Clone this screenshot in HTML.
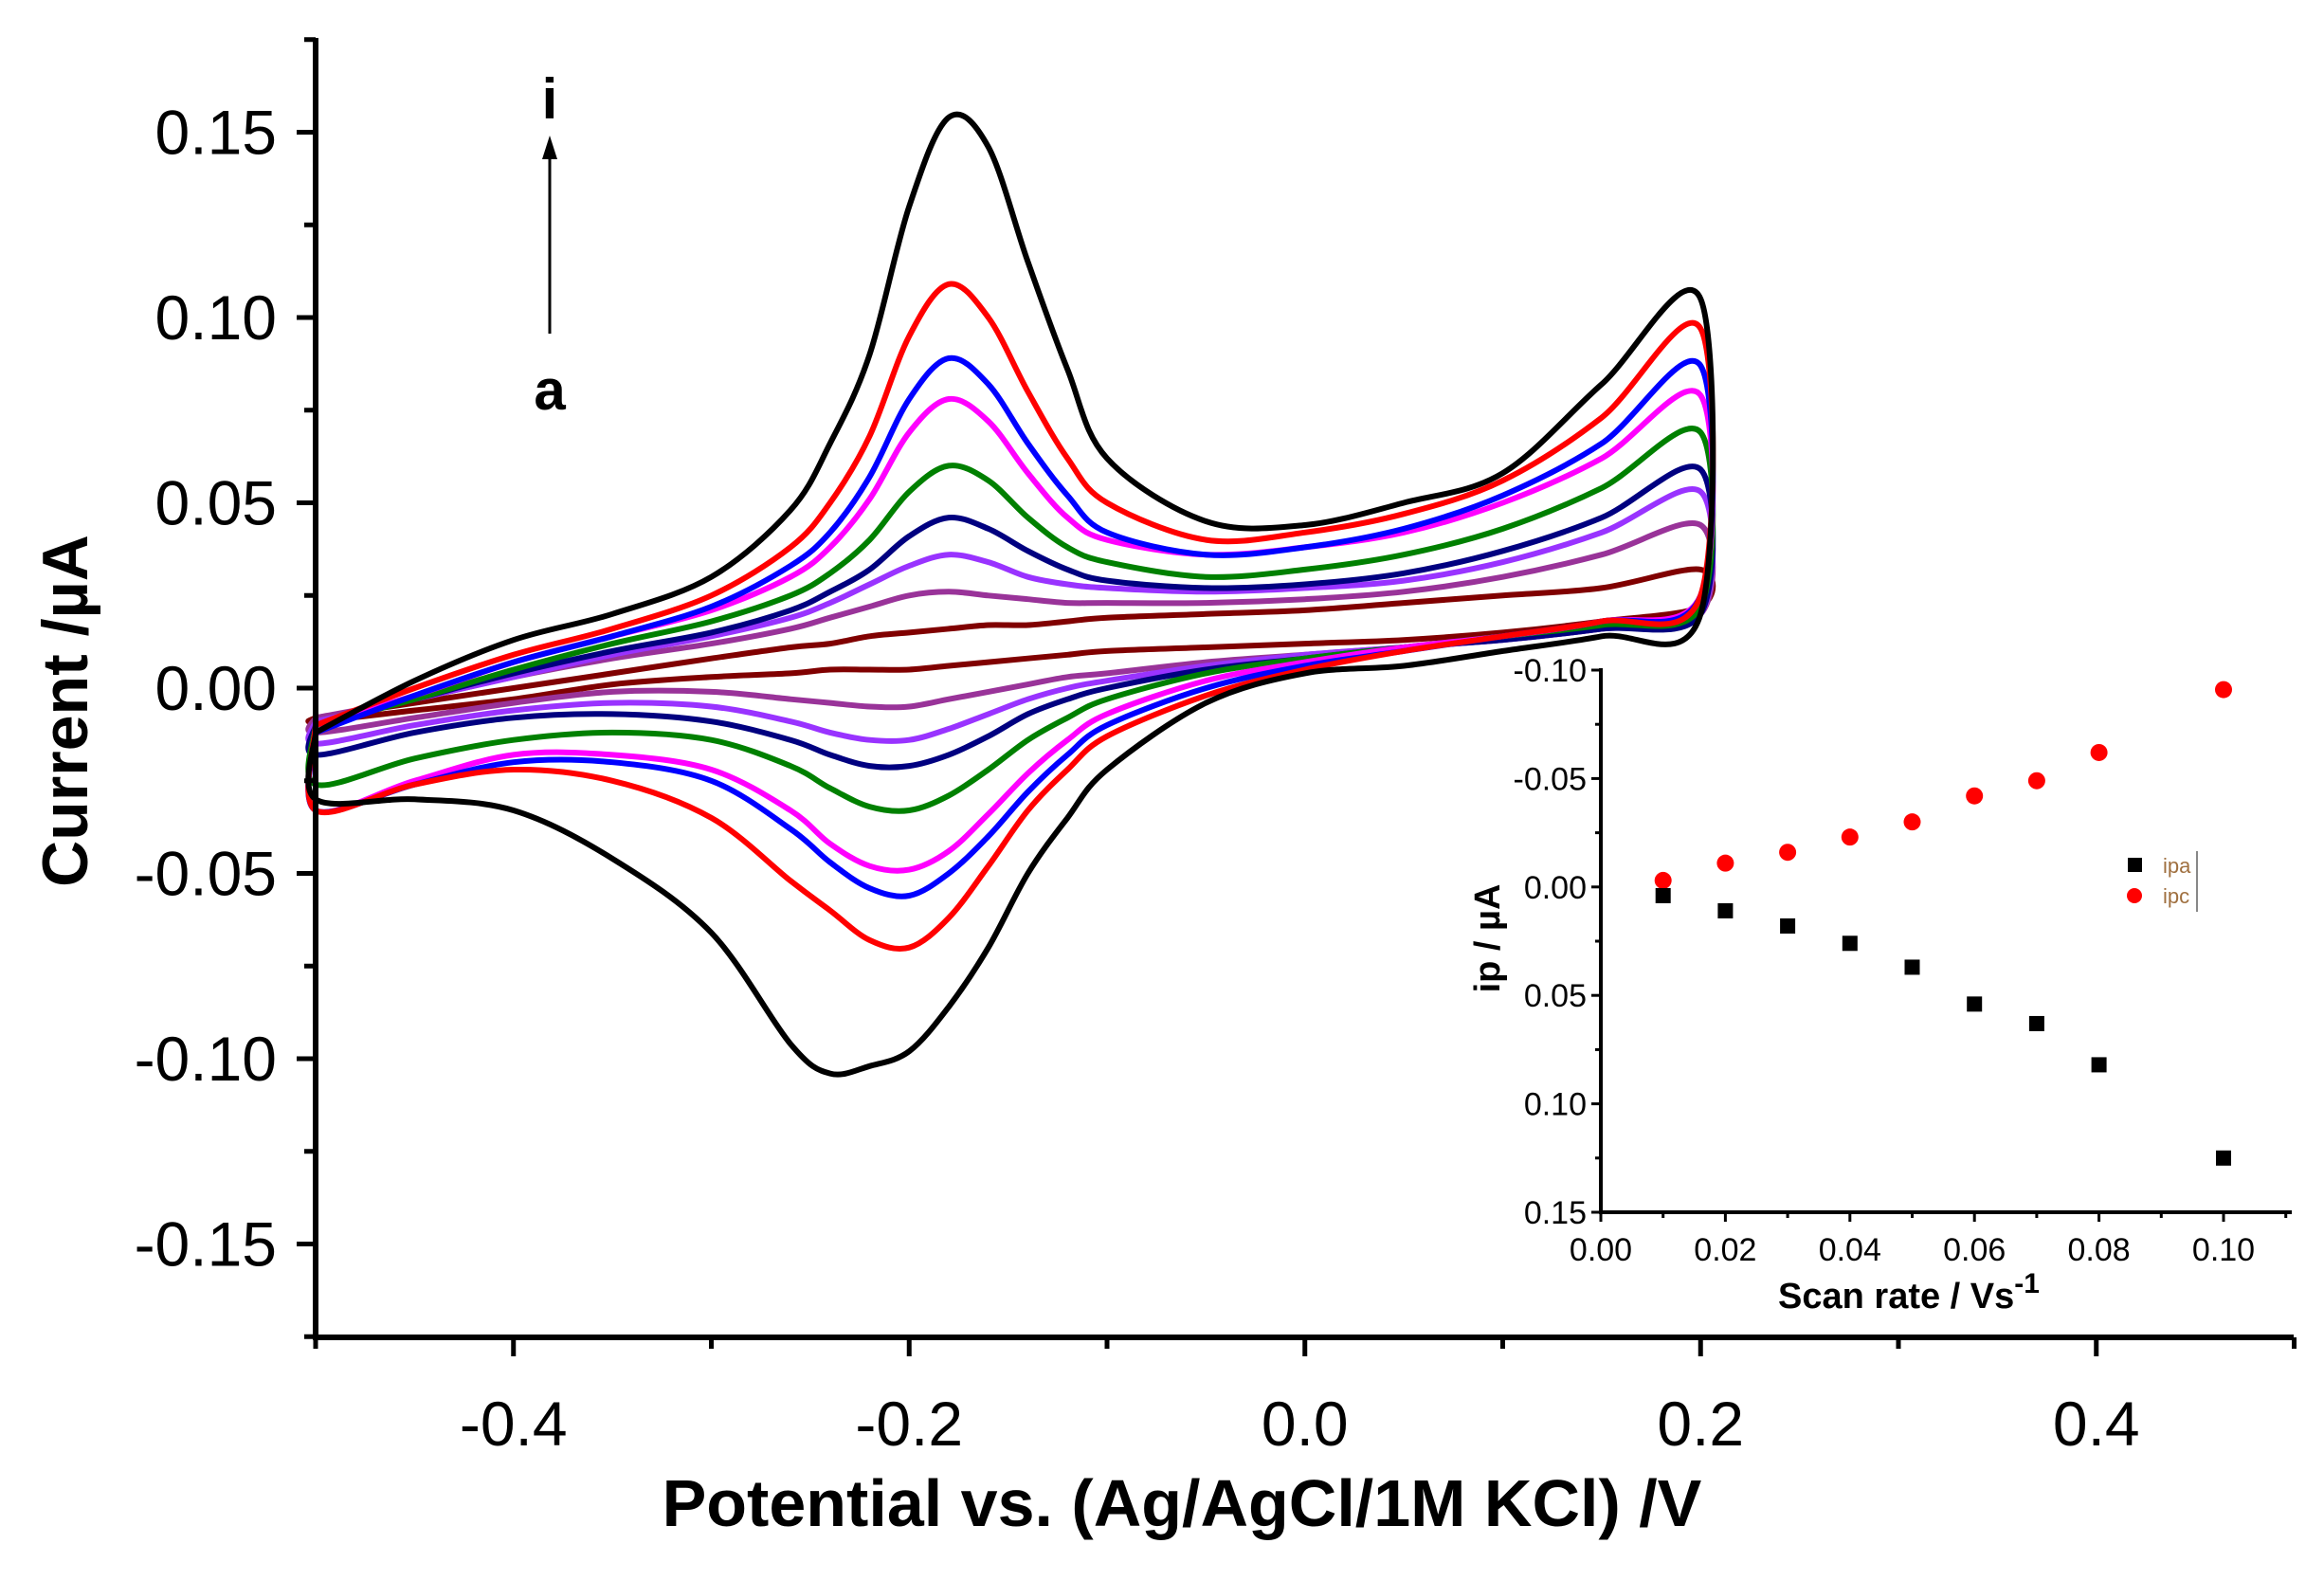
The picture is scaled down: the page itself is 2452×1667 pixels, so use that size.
<!DOCTYPE html>
<html><head><meta charset="utf-8"><style>
html,body{margin:0;padding:0;background:#fff}
svg{display:block}
text{font-family:"Liberation Sans",sans-serif;fill:#000}
</style></head><body>
<svg id="chart" width="2452" height="1667" viewBox="0 0 2452 1667" xmlns="http://www.w3.org/2000/svg">
<g id="main"></g>
<g id="inset"></g>
</svg>
<script>
// ---- main chart data ----
const potentialGrid = [-0.5,-0.45,-0.4,-0.35,-0.3,-0.26,-0.24,-0.22,-0.2,-0.18,-0.16,-0.14,-0.12,-0.1,-0.05,0,0.05,0.1,0.15,0.2];
const seriesNames = ['scan-i','scan-h','scan-g','scan-f','scan-e','scan-d','scan-c','scan-b','scan-a'];
const seriesColors = ['#000000','#ff0000','#0000ff','#ff00ff','#008000','#000080','#9933ff','#993399','#800000'];
const fwdBlack   = [-0.012,0.002,0.013,0.02,0.03,0.048,0.066,0.09,0.13,0.154,0.146,0.115,0.086,0.062,0.045,0.044,0.05,0.058,0.082,0.105];
const fwdRed     = [-0.01,0.0,0.009,0.016,0.025,0.038,0.05,0.068,0.095,0.109,0.1,0.08,0.062,0.05,0.04,0.042,0.047,0.056,0.073,0.097];
const fwdBlue    = [-0.012,-0.002,0.007,0.014,0.022,0.033,0.042,0.057,0.078,0.089,0.082,0.066,0.052,0.042,0.036,0.038,0.043,0.052,0.066,0.087];
const fwdMagenta = [-0.01,-0.002,0.007,0.014,0.021,0.03,0.038,0.051,0.069,0.078,0.072,0.058,0.046,0.04,0.036,0.038,0.042,0.05,0.062,0.079];
const fwdGreen   = [-0.01,-0.003,0.005,0.012,0.018,0.025,0.031,0.04,0.053,0.06,0.056,0.046,0.038,0.034,0.03,0.032,0.036,0.043,0.054,0.069];
const fwdNavy    = [-0.01,-0.003,0.004,0.01,0.015,0.021,0.026,0.032,0.041,0.046,0.043,0.037,0.032,0.029,0.027,0.028,0.031,0.037,0.046,0.059];
const fwdViolet  = [-0.009,-0.003,0.003,0.009,0.014,0.019,0.023,0.028,0.033,0.036,0.034,0.03,0.028,0.027,0.026,0.027,0.029,0.034,0.042,0.053];
const fwdPurple  = [-0.008,-0.003,0.003,0.008,0.012,0.016,0.019,0.022,0.025,0.026,0.025,0.024,0.023,0.023,0.023,0.024,0.026,0.03,0.036,0.044];
const fwdMaroon  = [-0.008,-0.004,0.0,0.004,0.008,0.011,0.012,0.014,0.015,0.016,0.017,0.017,0.018,0.019,0.02,0.021,0.023,0.025,0.027,0.032];
const revBlack   = [-0.03,-0.03,-0.033,-0.046,-0.066,-0.096,-0.104,-0.102,-0.098,-0.086,-0.07,-0.05,-0.035,-0.022,-0.004,0.004,0.006,0.01,0.014,0.02];
const revRed     = [-0.033,-0.026,-0.022,-0.025,-0.035,-0.052,-0.06,-0.068,-0.07,-0.062,-0.048,-0.033,-0.022,-0.013,-0.002,0.005,0.01,0.014,0.018,0.025];
const revBlue    = [-0.033,-0.026,-0.02,-0.02,-0.025,-0.038,-0.047,-0.054,-0.056,-0.05,-0.04,-0.028,-0.018,-0.01,0.0,0.006,0.01,0.014,0.018,0.025];
const revMagenta = [-0.033,-0.025,-0.018,-0.018,-0.022,-0.033,-0.042,-0.048,-0.049,-0.044,-0.034,-0.023,-0.014,-0.007,0.002,0.007,0.011,0.014,0.018,0.025];
const revGreen   = [-0.026,-0.019,-0.014,-0.012,-0.014,-0.021,-0.027,-0.032,-0.033,-0.029,-0.022,-0.014,-0.008,-0.003,0.004,0.008,0.011,0.014,0.017,0.022];
const revNavy    = [-0.018,-0.012,-0.008,-0.007,-0.009,-0.014,-0.018,-0.021,-0.021,-0.018,-0.013,-0.007,-0.003,0.0,0.005,0.008,0.011,0.013,0.016,0.02];
const revViolet  = [-0.015,-0.01,-0.006,-0.004,-0.005,-0.009,-0.012,-0.014,-0.014,-0.011,-0.007,-0.003,0.0,0.002,0.006,0.009,0.011,0.013,0.016,0.02];
const revPurple  = [-0.012,-0.008,-0.004,-0.001,-0.001,-0.003,-0.004,-0.005,-0.005,-0.003,-0.001,0.001,0.003,0.004,0.007,0.009,0.011,0.013,0.016,0.02];
const revMaroon  = [-0.009,-0.006,-0.003,0.001,0.003,0.004,0.005,0.005,0.005,0.006,0.007,0.008,0.009,0.01,0.011,0.012,0.013,0.015,0.018,0.022];
const xTickLabels = ['-0.4','-0.2','0.0','0.2','0.4'];
const yTickLabels = ['0.15','0.10','0.05','0.00','-0.05','-0.10','-0.15'];
// ---- inset data ----
const scanRates = [0.01,0.02,0.03,0.04,0.05,0.06,0.07,0.08,0.10];
const ipaValues = [0.004,0.011,0.018,0.026,0.037,0.054,0.063,0.082,0.125];
const ipcValues = [-0.003,-0.011,-0.016,-0.023,-0.030,-0.042,-0.049,-0.062,-0.091];
const insetXTicks = ['0.00','0.02','0.04','0.06','0.08','0.10'];
const insetYTicks = ['-0.10','-0.05','0.00','0.05','0.10','0.15'];

const NS='http://www.w3.org/2000/svg';
function mk(parent,tag,attrs,txt){const e=document.createElementNS(NS,tag);for(const k in attrs)e.setAttribute(k,attrs[k]);if(txt!==undefined)e.textContent=txt;parent.appendChild(e);return e;}

// main axes
const X=v=>333+(v+0.5)*2087.5;
const Y=v=>726+(-v)*3910;
const g=document.getElementById('main');
const fwd=[fwdBlack,fwdRed,fwdBlue,fwdMagenta,fwdGreen,fwdNavy,fwdViolet,fwdPurple,fwdMaroon];
const rev=[revBlack,revRed,revBlue,revMagenta,revGreen,revNavy,revViolet,revPurple,revMaroon];
function smooth(pts){let d='M'+pts[0][0].toFixed(1)+','+pts[0][1].toFixed(1);
 for(let i=0;i<pts.length-1;i++){const p0=pts[Math.max(0,i-1)],p1=pts[i],p2=pts[i+1],p3=pts[Math.min(pts.length-1,i+2)];
 const c1=[p1[0]+(p2[0]-p0[0])/6,p1[1]+(p2[1]-p0[1])/6],c2=[p2[0]-(p3[0]-p1[0])/6,p2[1]-(p3[1]-p1[1])/6];
 d+=' C'+c1.map(v=>v.toFixed(1)).join(',')+' '+c2.map(v=>v.toFixed(1)).join(',')+' '+p2[0].toFixed(1)+','+p2[1].toFixed(1);}
 return d;}
for(let s=fwd.length-1;s>=0;s--){
  const pts=[];
  for(let i=0;i<potentialGrid.length;i++)pts.push([X(potentialGrid[i]),Y(fwd[s][i])]);
  for(let i=potentialGrid.length-1;i>=0;i--)pts.push([X(potentialGrid[i]),Y(rev[s][i])]);
  pts.push(pts[0]);
  const p=mk(g,'path',{d:smooth(pts),fill:'none',stroke:seriesColors[s],'stroke-width':6,'stroke-linejoin':'round'});
  
  
}
const ya=mk(g,'line',{x1:333,y1:40,x2:333,y2:1413,stroke:'#000','stroke-width':6});

const xa=mk(g,'line',{x1:330,y1:1411,x2:2420,y2:1411,stroke:'#000','stroke-width':6});

for(let k=-5;k<=5;k++){const v=k*0.1;const major=(k%2===0);
  mk(g,'line',{x1:X(v),y1:1411,x2:X(v),y2:1411+(major?20:12),stroke:'#000','stroke-width':5});}
xTickLabels.forEach(l=>{const t=mk(g,'text',{x:X(parseFloat(l)),y:1525,'font-size':66,'text-anchor':'middle'},l);
  });
for(let k=-7;k<=7;k++){const v=k*0.025;const major=(k%2===0);
  mk(g,'line',{x1:333,y1:Y(v),x2:333-(major?20:12),y2:Y(v),stroke:'#000','stroke-width':5});}
yTickLabels.forEach(l=>{const t=mk(g,'text',{x:292,y:Y(parseFloat(l))+23,'font-size':66,'text-anchor':'end'},l);
  });
let t=mk(g,'text',{x:1247,y:1610,'font-size':70,'font-weight':'bold','text-anchor':'middle'},'Potential vs. (Ag/AgCl/1M KCl) /V');

t=mk(g,'text',{x:0,y:0,'font-size':68,'font-weight':'bold','text-anchor':'middle',transform:'translate(92,750) rotate(-90)'},'Current /µA');

t=mk(g,'text',{x:580,y:125,'font-size':60,'font-weight':'bold','text-anchor':'middle'},'i');

t=mk(g,'text',{x:580,y:432,'font-size':60,'font-weight':'bold','text-anchor':'middle'},'a');

const ar=mk(g,'line',{x1:580,y1:352,x2:580,y2:160,stroke:'#000','stroke-width':3});

mk(g,'polygon',{points:'580,143 572,168 588,168',fill:'#000'});

// inset
const ig=document.getElementById('inset');
const IX=v=>1689+v*6570;
const IY=v=>707+(v+0.10)*2288;
mk(ig,'rect',{x:1600,y:702,width:840,height:690,fill:'#fff'});
let a=mk(ig,'line',{x1:1689,y1:705,x2:1689,y2:1281,stroke:'#000','stroke-width':4});

a=mk(ig,'line',{x1:1687,y1:1279,x2:2418,y2:1279,stroke:'#000','stroke-width':4});

for(let k=0;k<=11;k++){mk(ig,'line',{x1:IX(k*0.01),y1:1279,x2:IX(k*0.01),y2:1279+(k%2===0?10:6),stroke:'#000','stroke-width':3});}
insetXTicks.forEach(l=>{const e=mk(ig,'text',{x:IX(parseFloat(l)),y:1330,'font-size':34,'text-anchor':'middle'},l);
  });
for(let k=0;k<=10;k++){mk(ig,'line',{x1:1689,y1:IY(-0.1+k*0.025),x2:1689-(k%2===0?10:6),y2:IY(-0.1+k*0.025),stroke:'#000','stroke-width':3});}
insetYTicks.forEach(l=>{const e=mk(ig,'text',{x:1674,y:IY(parseFloat(l))+12,'font-size':34,'text-anchor':'end'},l);
  });
for(let i=0;i<scanRates.length;i++){
  const c=mk(ig,'circle',{cx:IX(scanRates[i]),cy:IY(ipcValues[i]),r:9,fill:'#ff0000'});
  
  const r=mk(ig,'rect',{x:IX(scanRates[i])-8,y:IY(ipaValues[i])-8,width:16,height:16,fill:'#000'});
  
}
let lg=mk(ig,'rect',{x:2245,y:905,width:15,height:15,fill:'#000'});

lg=mk(ig,'circle',{cx:2252,cy:945,r:8,fill:'#ff0000'});

t=mk(ig,'text',{x:2282,y:921,'font-size':22,style:'fill:#a07040'},'ipa');

t=mk(ig,'text',{x:2282,y:953,'font-size':22,style:'fill:#a07040'},'ipc');

mk(ig,'line',{x1:2318,y1:898,x2:2318,y2:962,stroke:'#888','stroke-width':2});
t=mk(ig,'text',{x:2014,y:1380,'font-size':38,'font-weight':'bold','text-anchor':'middle'},'');

t.innerHTML='Scan rate / Vs<tspan dy="-16" font-size="30">-1</tspan>';
t=mk(ig,'text',{x:0,y:0,'font-size':38,'font-weight':'bold','text-anchor':'middle',transform:'translate(1582,990) rotate(-90)'},'ip / µA');

</script>
</body></html>
